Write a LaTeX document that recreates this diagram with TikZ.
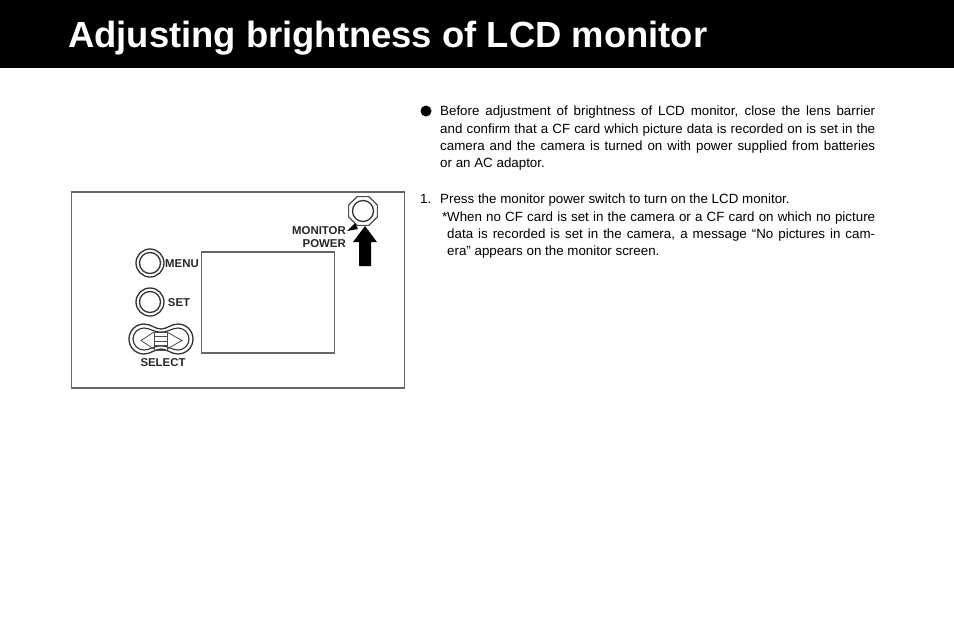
\documentclass[tikz,border=0pt]{standalone}
\usepackage{fontspec}
\setmainfont{Liberation Sans}
\usetikzlibrary{shapes.geometric}
\tikzstyle{body_text}=[anchor=north west, inner sep=0pt, align=justify, font=\fontsize{13.35}{17.3}\selectfont]
\tikzstyle{key_label}=[inner sep=0pt, font=\fontsize{11.4}{13}\selectfont\bfseries, text=black!85]
\tikzstyle{button_ring}=[circle, draw=black!80, line width=1.3pt, inner sep=0pt]
\tikzstyle{panel_line}=[draw=black!60, line width=1.1pt, inner sep=0pt]
\begin{document}
\begin{tikzpicture}[x=1pt,y=-1pt]
\useasboundingbox (0,0) rectangle (954,625);
\node[fill=black, minimum width=954pt, minimum height=68pt, inner sep=0pt] (header) at (477,34){};
\node[anchor=base west, inner sep=0pt, text=white, font=\fontsize{36.4}{40}\selectfont\bfseries] (title) at (68,47){Adjusting brightness of LCD monitor};
\node[panel_line, minimum width=333.5pt, minimum height=196pt] (panel) at (238,290){};
\node[panel_line, minimum width=133.5pt, minimum height=101pt] (screen) at (268,302.5){};
\node[button_ring, minimum size=28pt] (menu_outer) at (150,263){};
\node[button_ring, minimum size=21pt] (menu_inner) at (150,263){};
\node[key_label] (menu_label) at (182,264){MENU};
\node[button_ring, minimum size=28pt] (set_outer) at (150,302){};
\node[button_ring, minimum size=21pt] (set_inner) at (150,302){};
\node[key_label] (set_label) at (179,303){SET};
\node[regular polygon, regular polygon sides=8, draw=black!70, line width=1.1pt, inner sep=0pt, minimum size=31pt] (power_outer) at (363,211){};
\node[button_ring, minimum size=21pt] (power_inner) at (363,211){};
\node[key_label, anchor=east] (monitor_label) at (346,231){MONITOR};
\node[key_label, anchor=east] (power_label) at (346,244){POWER};
\node[key_label] (select_label) at (163,363){SELECT};
\draw[black!80, line width=1.3pt] (144,324) arc[start angle=270, end angle=90, radius=15]
  .. controls (151,354) and (155,349) .. (161,349) .. controls (167,349) and (171,354) .. (178,354)
  arc[start angle=90, end angle=-90, radius=15]
  .. controls (171,324) and (167,329) .. (161,329) .. controls (155,329) and (151,324) .. (144,324) -- cycle;
\draw[black!80, line width=1.1pt] (144,328) arc[start angle=270, end angle=90, radius=11]
  .. controls (150,350) and (153,346) .. (161,346) .. controls (169,346) and (172,350) .. (178,350)
  arc[start angle=90, end angle=-90, radius=11]
  .. controls (172,328) and (169,332) .. (161,332) .. controls (153,332) and (150,328) .. (144,328) -- cycle;
\draw[black!70, line width=.8pt] (154,332) rectangle (167,350);
\draw[black!70, line width=.8pt] (154,336.5) -- (167,336.5) (154,341) -- (167,341) (154,345.5) -- (167,345.5);
\draw[black!70, line width=.8pt] (154,332) -- (141,340.5) -- (154,349);
\draw[black!70, line width=.8pt] (167,332) -- (182,340.5) -- (167,349);
\fill[black] (347,231) -- (355,223) -- (358,229) -- cycle;
\fill[black] (365,226) -- (377,242) -- (371,242) -- (371,266) -- (359,266) -- (359,242) -- (353,242) -- cycle;
\node[circle, fill=black, inner sep=0pt, minimum size=11pt] (bullet) at (426,111){};
\node[body_text, text width=435pt] (intro) at (440,106){Before adjustment of brightness of LCD monitor, close the lens barrier\linebreak
and confirm that a CF card which picture data is recorded on is set in the\linebreak
camera and the camera is turned on with power supplied from batteries\linebreak
or an AC adaptor.};
\node[body_text] (step_num) at (420,194){1.};
\node[body_text] (step_one) at (440,194){Press the monitor power switch to turn on the LCD monitor.};
\node[body_text, text width=428pt] (note) at (447,211.3){\llap{*}When no CF card is set in the camera or a CF card on which no picture\linebreak
data is recorded is set in the camera, a message “No pictures in cam-\linebreak
era” appears on the monitor screen.};
\end{tikzpicture}
\end{document}
